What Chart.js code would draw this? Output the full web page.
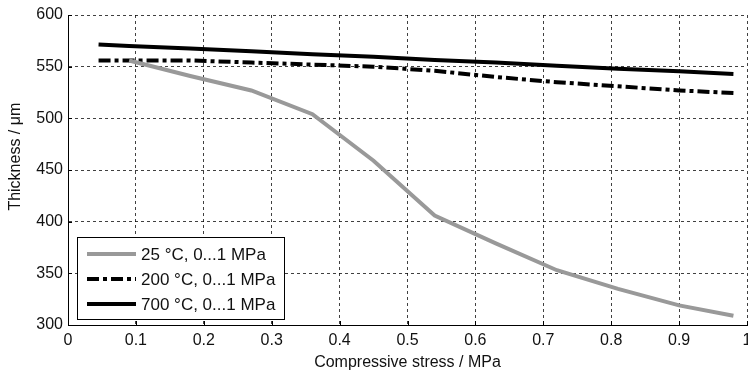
<!DOCTYPE html>
<html>
<head>
<meta charset="utf-8">
<script src="https://cdn.jsdelivr.net/npm/chart.js@4/dist/chart.umd.min.js"></script>
<style>
    html, body { margin: 0; padding: 0; background: #fff; overflow: hidden; }
    canvas { display: block; }
</style>
</head>
<body>
<canvas id="chart" width="748" height="372"></canvas>
<script>
// Data
const stress25 = [0.09, 0.18, 0.27, 0.36, 0.45, 0.54, 0.63, 0.72, 0.81, 0.90, 0.98];
const thick25 = [556, 541, 527, 504, 459, 406, 379, 353, 335, 319, 309];

const stress200 = [0.045, 0.09, 0.18, 0.27, 0.36, 0.45, 0.54, 0.63, 0.72, 0.81, 0.90, 0.98];
const thick200 = [556, 556, 556, 554, 552, 550, 546, 540, 535, 531, 527, 524.5];

const stress700 = [0.045, 0.09, 0.18, 0.27, 0.36, 0.45, 0.54, 0.63, 0.72, 0.81, 0.90, 0.98];
const thick700 = [571.5, 570, 567.5, 565, 562, 559.5, 556.5, 554, 551, 548, 545.5, 543];

const seriesLabels = ['25 \u00B0C, 0...1 MPa', '200 \u00B0C, 0...1 MPa', '700 \u00B0C, 0...1 MPa'];

const FONT = 'Liberation Sans, Arial, sans-serif';

function toPoints(xs, ys) {
    return xs.map((x, i) => ({ x: x, y: ys[i] }));
}

/**
 * Short tick marks pointing into the plot area
 */
const innerTicks = {
    id: 'innerTicks',
    afterDraw(chart) {
        const ctx = chart.ctx;
        const area = chart.chartArea;
        const xs = chart.scales.x;
        const ys = chart.scales.y;
        ctx.save();
        ctx.strokeStyle = '#000';
        ctx.lineWidth = 1;
        ctx.beginPath();
        xs.ticks.forEach(t => {
            const px = Math.round(xs.getPixelForValue(t.value)) + 0.5;
            ctx.moveTo(px, area.bottom);
            ctx.lineTo(px, area.bottom - 4);
        });
        ys.ticks.forEach(t => {
            const py = Math.round(ys.getPixelForValue(t.value)) + 0.5;
            ctx.moveTo(area.left, py);
            ctx.lineTo(area.left + 4, py);
        });
        ctx.stroke();
        ctx.restore();
    }
};

/**
 * Boxed legend in the lower left corner of the plot
 */
const boxLegend = {
    id: 'boxLegend',
    afterDraw(chart) {
        const ctx = chart.ctx;
        const area = chart.chartArea;
        ctx.save();
        ctx.font = '17px ' + FONT;
        const textW = Math.max(...chart.data.datasets.map(d => ctx.measureText(d.label).width));
        const left = area.left + 9;
        const bottom = area.bottom - 6;
        const width = 65 + textW + 8;
        const height = 82;
        const top = bottom - height;

        ctx.fillStyle = '#fff';
        ctx.fillRect(left, top, width, height);
        ctx.strokeStyle = '#000';
        ctx.lineWidth = 1;
        ctx.strokeRect(Math.round(left) + 0.5, Math.round(top) + 0.5, Math.round(width), Math.round(height));

        chart.data.datasets.forEach((d, i) => {
            const y = top + 17 + i * 25;
            ctx.beginPath();
            ctx.strokeStyle = d.borderColor;
            ctx.lineWidth = d.borderWidth;
            ctx.setLineDash(d.borderDash || []);
            ctx.moveTo(left + 10, y);
            ctx.lineTo(left + 59, y);
            ctx.stroke();
            ctx.setLineDash([]);
            ctx.fillStyle = '#111';
            ctx.textBaseline = 'middle';
            ctx.textAlign = 'left';
            ctx.fillText(d.label, left + 64, y + 1);
        });
        ctx.restore();
    }
};

new Chart(document.getElementById('chart'), {
    type: 'line',
    data: {
        datasets: [
            {
                label: seriesLabels[0],
                data: toPoints(stress25, thick25),
                borderColor: '#999999',
                borderWidth: 4,
                pointRadius: 0,
                tension: 0
            },
            {
                label: seriesLabels[1],
                data: toPoints(stress200, thick200),
                borderColor: '#000000',
                borderWidth: 4,
                borderDash: [12, 4, 4, 4],
                pointRadius: 0,
                tension: 0
            },
            {
                label: seriesLabels[2],
                data: toPoints(stress700, thick700),
                borderColor: '#000000',
                borderWidth: 4,
                pointRadius: 0,
                tension: 0
            }
        ]
    },
    options: {
        responsive: false,
        animation: false,
        devicePixelRatio: 1,
        layout: {
            padding: { top: 15, right: 1, left: 0, bottom: 0 }
        },
        plugins: {
            legend: { display: false },
            tooltip: { enabled: false }
        },
        scales: {
            x: {
                type: 'linear',
                min: 0,
                max: 1,
                ticks: {
                    stepSize: 0.1,
                    autoSkip: false,
                    maxRotation: 0,
                    padding: 6,
                    color: '#111',
                    font: { family: FONT, size: 16 },
                    callback: v => String(Math.round(v * 10) / 10)
                },
                grid: {
                    color: 'rgba(0,0,0,0.75)',
                    lineWidth: 1,
                    drawTicks: false
                },
                border: { display: true, color: '#000', width: 1, dash: [3, 3] },
                title: {
                    display: true,
                    text: 'Compressive stress / MPa',
                    color: '#111',
                    font: { family: FONT, size: 16 },
                    padding: { top: 0, bottom: 0 }
                },
                afterFit(scale) {
                    scale.height = 47;
                    scale.paddingLeft = 0;
                    scale.paddingRight = 0;
                }
            },
            y: {
                min: 300,
                max: 600,
                ticks: {
                    stepSize: 50,
                    padding: 5,
                    color: '#111',
                    font: { family: FONT, size: 16 }
                },
                grid: {
                    color: 'rgba(0,0,0,0.75)',
                    lineWidth: 1,
                    drawTicks: false
                },
                border: { display: true, color: '#000', width: 1, dash: [3, 3] },
                title: {
                    display: true,
                    text: '      Thickness / \u03BCm',
                    color: '#111',
                    font: { family: FONT, size: 16 },
                    padding: { top: 6, bottom: 0 }
                },
                afterFit(scale) {
                    scale.width = 68;
                    scale.paddingTop = 0;
                    scale.paddingBottom = 0;
                }
            }
        }
    },
    plugins: [innerTicks, boxLegend]
});
</script>
</body>
</html>
